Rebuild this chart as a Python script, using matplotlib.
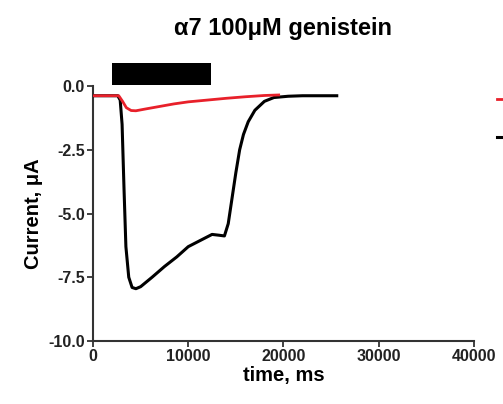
import matplotlib
matplotlib.use("Agg")
import matplotlib.pyplot as plt
from matplotlib.patches import Rectangle

plt.rcParams['font.family'] = ['Liberation Sans', 'DejaVu Sans']

# black trace (control / total current)
t_black = [0, 2600, 2850, 3050, 3250, 3450, 3750, 4100, 4500, 5000, 6200, 7500, 8800,
           10000, 11300, 12500, 13200, 13800, 14200, 14600, 15000, 15400, 15800,
           16300, 17000, 18000, 19000, 20500, 22000, 25600]
i_black = [-0.38, -0.38, -0.55, -1.5, -4.0, -6.3, -7.5, -7.9, -7.95, -7.87, -7.5, -7.08, -6.7,
           -6.3, -6.05, -5.82, -5.85, -5.88, -5.4, -4.4, -3.4, -2.5, -1.9,
           -1.4, -0.95, -0.6, -0.45, -0.4, -0.38, -0.38]

# red trace (genistein)
t_red = [0, 2700, 3100, 3500, 4000, 4500, 5500, 7000, 8500, 10000, 12000, 14000, 16000, 18000, 19500]
i_red = [-0.38, -0.38, -0.6, -0.85, -0.96, -0.97, -0.9, -0.8, -0.7, -0.62, -0.55, -0.48, -0.42, -0.37, -0.35]

# application bar
bar_start, bar_end = 2000, 12400
bar_low, bar_high = 0.05, 0.9

x_ticks = [0, 10000, 20000, 30000, 40000]
y_ticks = [0.0, -2.5, -5.0, -7.5, -10.0]

fig = plt.figure(figsize=(5.03, 4.04), dpi=100)
ax = fig.add_axes([0.185, 0.156, 0.757, 0.631])

ax.plot(t_black, i_black, color='black', lw=2.2, zorder=3, label=' ')
ax.plot(t_red, i_red, color='#e8202a', lw=2.0, zorder=4, label=' ')

ax.add_patch(Rectangle((bar_start, bar_low), bar_end - bar_start, bar_high - bar_low,
                       facecolor='black', edgecolor='none', clip_on=False, zorder=5))

ax.set_xlim(0, 40000)
ax.set_ylim(-10, 0)
ax.set_xticks(x_ticks)
ax.set_xticklabels([str(v) for v in x_ticks])
ax.set_yticks(y_ticks)
ax.set_yticklabels(['0.0', '-2.5', '-5.0', '-7.5', '-10.0'])

for s in ['top', 'right']:
    ax.spines[s].set_visible(False)
for s in ['left', 'bottom']:
    ax.spines[s].set_linewidth(1.5)
    ax.spines[s].set_color('#333333')
ax.tick_params(axis='both', direction='out', length=4, width=1.3, color='#333333',
               labelsize=11.5, pad=2)
for lab in ax.get_xticklabels() + ax.get_yticklabels():
    lab.set_fontweight('bold')
    lab.set_color('#222222')

ax.set_xlabel('time, ms', fontsize=14.5, fontweight='bold', labelpad=1)
ax.set_ylabel('Current, \u03bcA', fontsize=14.5, fontweight='bold', labelpad=4)
ax.set_title('\u03b17 100\u03bcM genistein', fontsize=17, fontweight='bold', pad=37)

# legend cut off at right edge
handles, labels = ax.get_legend_handles_labels()
fig.legend(handles[::-1], labels[::-1], loc='upper left', bbox_to_anchor=(0.988, 0.77),
           frameon=False, handlelength=2, labelspacing=1.4, fontsize=12,
           borderaxespad=0, borderpad=0)

fig.savefig('out.png', dpi=100)
